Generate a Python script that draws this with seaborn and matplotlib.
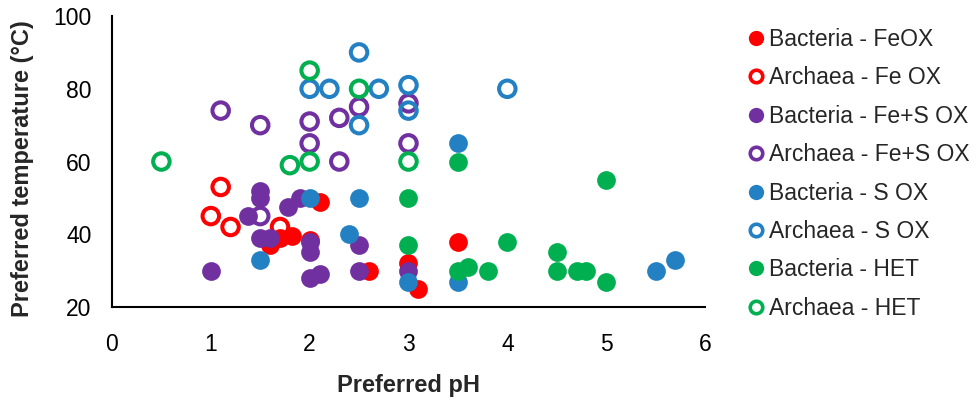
import matplotlib
matplotlib.use("Agg")
import matplotlib.pyplot as plt
import seaborn as sns
import pandas as pd
from matplotlib.lines import Line2D

# ---- data ----
bact_feox_ph = [1.6, 1.7, 1.82, 2.0, 2.1, 2.6, 3.0, 3.1, 3.5]
bact_feox_t = [37, 39, 39.5, 38.5, 49, 30, 32, 25, 38]

arch_feox_ph = [1.0, 1.1, 1.2, 1.7]
arch_feox_t = [45, 53, 42, 42]

bact_fes_ph = [1.0, 1.38, 1.5, 1.5, 1.5, 1.6, 1.78, 1.9, 2.0, 2.0, 2.0, 2.1, 2.5, 2.5, 3.0]
bact_fes_t = [30, 45, 52, 50, 39, 39, 47.5, 50, 38, 35, 28, 29, 37, 30, 30]

arch_fes_ph = [1.1, 1.5, 1.5, 2.0, 2.0, 2.3, 2.3, 2.5, 3.0, 3.0]
arch_fes_t = [74, 70, 45, 71, 65, 72, 60, 75, 76, 65]

bact_s_ph = [1.5, 2.0, 2.4, 2.5, 3.0, 3.5, 3.5, 5.5, 5.7]
bact_s_t = [33, 50, 40, 50, 27, 27, 65, 30, 33]

arch_s_ph = [2.0, 2.2, 2.5, 2.5, 2.7, 3.0, 3.0, 4.0]
arch_s_t = [80, 80, 90, 70, 80, 81, 74, 80]

bact_het_ph = [3.0, 3.0, 3.5, 3.5, 3.6, 3.8, 4.0, 4.5, 4.5, 4.7, 4.8, 5.0, 5.0]
bact_het_t = [50, 37, 60, 30, 31, 30, 38, 35, 30, 30, 30, 27, 55]

arch_het_ph = [0.5, 1.8, 2.0, 2.0, 2.5, 3.0]
arch_het_t = [60, 59, 60, 85, 80, 60]

labels = ["Bacteria - FeOX", "Archaea - Fe OX", "Bacteria - Fe+S OX",
          "Archaea - Fe+S OX", "Bacteria - S OX", "Archaea - S OX",
          "Bacteria - HET", "Archaea - HET"]
colors = ["#FF0000", "#FF0000", "#7030A0", "#7030A0",
          "#2280C3", "#2280C3", "#00B050", "#00B050"]
filled = [True, False, True, False, True, False, True, False]
x_ticks = [0, 1, 2, 3, 4, 5, 6]
y_ticks = [20, 40, 60, 80, 100]

groups = [(bact_feox_ph, bact_feox_t), (arch_feox_ph, arch_feox_t),
          (bact_fes_ph, bact_fes_t), (arch_fes_ph, arch_fes_t),
          (bact_s_ph, bact_s_t), (arch_s_ph, arch_s_t),
          (bact_het_ph, bact_het_t), (arch_het_ph, arch_het_t)]

sns.set_style("white")
plt.rcParams['font.family'] = ['Liberation Sans', 'DejaVu Sans']

fig = plt.figure(figsize=(9.77, 4.01), dpi=100)
ax = fig.add_axes([0.1146, 0.2344, 0.607, 0.7256])

for (xs, ys), lab, c, f in zip(groups, labels, colors, filled):
    df = pd.DataFrame({"ph": xs, "t": ys})
    if f:
        sns.scatterplot(data=df, x="ph", y="t", ax=ax, color=c, s=182,
                        linewidth=0, legend=False, zorder=3)
    else:
        sns.scatterplot(data=df, x="ph", y="t", ax=ax, color=c, s=141,
                        legend=False, zorder=3)
        coll = ax.collections[-1]
        coll.set_facecolor("none")
        coll.set_edgecolor(c)
        coll.set_linewidth(2.9)

ax.set_xlim(0, 6)
ax.set_ylim(20, 100)
ax.set_xticks(x_ticks)
ax.set_yticks(y_ticks)
ax.tick_params(axis="both", labelsize=16.5, direction="out", length=5,
               width=1, color="black", labelcolor="black")
ax.tick_params(axis="x", pad=14)
ax.tick_params(axis="y", pad=9.6)
for sp in ["top", "right"]:
    ax.spines[sp].set_visible(False)
for sp in ["left", "bottom"]:
    ax.spines[sp].set_color("black")
    ax.spines[sp].set_linewidth(1.5)

ax.set_xlabel("Preferred pH", fontsize=17, fontweight="bold", labelpad=13)
ax.set_ylabel("Preferred temperature (°C)", fontsize=17, fontweight="bold",
              labelpad=14, y=0.475)

handles = []
for lab, c, f in zip(labels, colors, filled):
    if f:
        h = Line2D([], [], marker="o", linestyle="none", markersize=11,
                   markerfacecolor=c, markeredgecolor=c, markeredgewidth=0)
    else:
        h = Line2D([], [], marker="o", linestyle="none", markersize=9,
                   markerfacecolor="none", markeredgecolor=c, markeredgewidth=2.6)
    handles.append(h)

fig.legend(handles=handles, labels=labels, loc="upper left",
           bbox_to_anchor=(0.7646, 0.931), frameon=False, fontsize=16.5,
           handlelength=0.8, handletextpad=0.17, labelspacing=0.675,
           borderpad=0, borderaxespad=0)

fig.savefig("out.png", dpi=100)
